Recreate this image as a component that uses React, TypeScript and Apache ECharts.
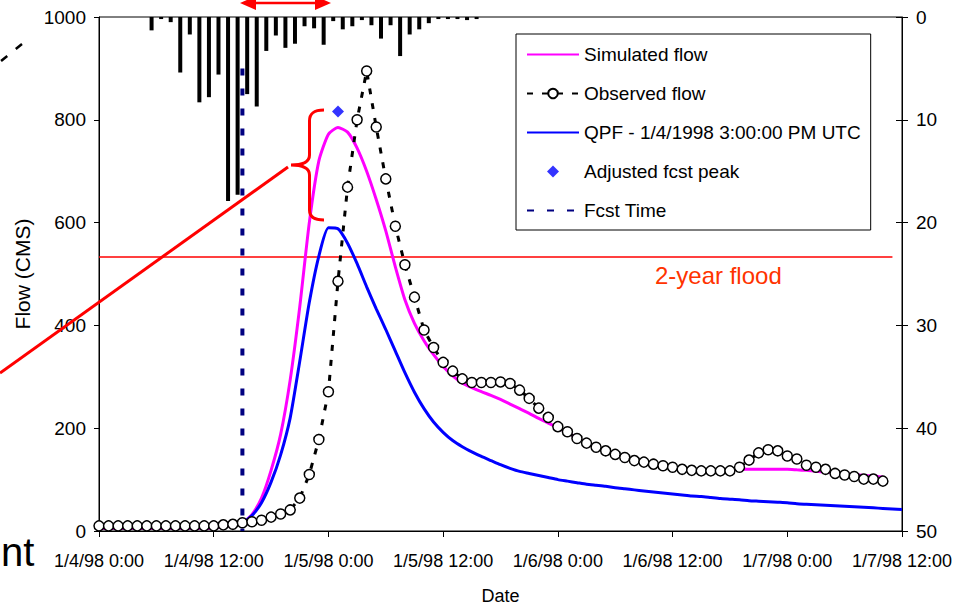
import React, { useEffect, useRef } from "react";
import * as echarts from "echarts";

const FONT = "'Liberation Sans', Arial, Helvetica, sans-serif";

// x-axis is hours since 1/4/98 0:00
const xTickLabels = [
  "1/4/98 0:00",
  "1/4/98 12:00",
  "1/5/98 0:00",
  "1/5/98 12:00",
  "1/6/98 0:00",
  "1/6/98 12:00",
  "1/7/98 0:00",
  "1/7/98 12:00",
];

// hourly observed flow (CMS), starting at hour 0
const observedStart = 0;
const observedFlow = [
  10, 10, 10, 10, 10, 10, 10, 10, 10, 10, 10, 10, 10, 12, 13, 16, 18, 21, 27, 33,
  41, 64, 110, 178, 271, 486, 669, 800, 895, 786, 685, 593, 518, 455, 391, 357, 328, 311, 296, 289,
  289, 289, 290, 287, 274, 258, 239, 221, 203, 193, 180, 171, 163, 156, 149, 143, 137, 134, 130, 127,
  124, 120, 118, 117, 117, 117, 117, 124, 138, 152, 158, 156, 146, 140, 128, 124, 120, 112, 109, 106,
  101, 101, 97,
];

// hourly simulated flow (CMS), starting at hour 0
const simulatedStart = 0;
const simulatedFlow = [
  5, 5, 5, 5, 5, 5, 5, 5, 5, 5, 5, 5, 6, 8, 11, 15, 32, 64, 118, 188,
  294, 436, 600, 720, 772, 785, 776, 745, 700, 645, 584, 514, 450, 404, 370, 343, 320, 302, 288, 279,
  271, 264, 256, 247, 238, 229, 219, 210, 201, 192, 181, 171, 163, 156, 149, 143, 137, 133, 130, 127,
  124, 121, 119, 118, 118, 118, 119, 120, 120, 120, 120, 120, 120, 119, 118, 116, 115, 113, 111, 110,
  108, 107, 105,
];

// hourly QPF forecast flow (CMS), starting at hour 15 (1/4/1998 3:00 PM)
const qpfStart = 15;
const qpfFlow = [
  15, 30, 55, 95, 148, 220, 330, 445, 535, 590, 588, 560, 520, 475, 432, 392, 350, 308, 270, 238,
  212, 192, 176, 164, 154, 145, 137, 129, 122, 116, 112, 108, 104, 100, 97, 94, 91, 89, 87, 84,
  82, 80, 78, 76, 74, 72, 70, 68, 67, 65, 63, 62, 61, 59, 58, 57, 56, 55, 53, 52,
  51, 50, 49, 48, 47, 46, 45, 44, 43, 42,
];

// hourly precipitation (right axis), hour 0..39
const precip = [
  0, 0, 0, 0, 0, 1.3, 0.2, 0.5, 5.4, 1.7, 8.3, 7.8, 5.6, 17.9, 17.3, 7.5, 8.7, 3.3, 1.8, 3.0,
  2.6, 0.9, 1.1, 2.7, 0.4, 1.2, 0.9, 0.3, 0.8, 2.1, 0.8, 3.8, 1.7, 1.2, 0.6, 0.2, 0.2, 0.2, 0.3, 0.2,
];

const adjustedPeakHour = [25];
const adjustedPeakFlow = [816];

const fcstHour = 15;
const fcstLineTop = 900;

const floodLevel = 533;
const floodEndHour = 83;

const BRACE_D =
  "M324,110 C314,110 309.5,113 309.5,121 L309.5,155 C309.5,162 303,165 291,165 C303,165 309.5,168 309.5,175 L309.5,210 C309.5,217 314,220 324,220";

let braceRegistered = false;
function registerBrace() {
  if (braceRegistered) return;
  echarts.graphic.registerShape("brace", echarts.graphic.extendPath(BRACE_D, {}) as any);
  braceRegistered = true;
}

const toPairs = (start: number, arr: number[]) => arr.map((v, i) => [start + i, v]);

export default function App() {
  const ref = useRef<HTMLDivElement>(null);

  useEffect(() => {
    if (!ref.current) return;
    registerBrace();
    const chart = echarts.init(ref.current, undefined, { renderer: "svg" });

    const axisText = { color: "#000", fontFamily: FONT, fontSize: 18 };
    const noSymbol = { opacity: 0 };

    const option: any = {
      animation: false,
      backgroundColor: "#fff",
      textStyle: { fontFamily: FONT },
      grid: {
        left: 99,
        right: 67,
        top: 17,
        bottom: 75,
        show: true,
        borderColor: "#000",
        borderWidth: 1,
        backgroundColor: "transparent",
        containLabel: false,
        outerBoundsMode: "none",
      },
      legend: {
        data: [
          { name: "Simulated flow", itemStyle: noSymbol },
          { name: "Observed flow" },
          { name: "QPF - 1/4/1998 3:00:00 PM UTC", itemStyle: noSymbol },
          { name: "Adjusted fcst peak", icon: "path://M6,0 L12,6 L6,12 L0,6 Z" },
          { name: "Fcst Time", itemStyle: noSymbol },
        ],
        orient: "vertical",
        left: 516,
        top: 34,
        padding: [11, 10, 10, 10],
        itemGap: 20,
        itemWidth: 52,
        itemHeight: 12,
        symbolKeepAspect: true,
        borderColor: "#000",
        borderWidth: 1,
        backgroundColor: "#fff",
        selectedMode: false,
        textStyle: { color: "#000", fontFamily: FONT, fontSize: 19 },
      },
      xAxis: {
        type: "value",
        min: 0,
        max: 84,
        interval: 12,
        name: "Date",
        nameLocation: "middle",
        nameGap: 56,
        nameTextStyle: { ...axisText, fontSize: 18 },
        axisLine: { show: true, lineStyle: { color: "#000", width: 1 } },
        axisTick: { show: true, length: 6, lineStyle: { color: "#000" } },
        axisLabel: {
          ...axisText,
          margin: 21,
          formatter: (v: number) => xTickLabels[Math.round(v / 12)] ?? "",
        },
        splitLine: { show: false },
      },
      yAxis: [
        {
          type: "value",
          min: 0,
          max: 1000,
          interval: 200,
          position: "left",
          name: "Flow (CMS)",
          nameLocation: "middle",
          nameGap: 60,
          nameTextStyle: { ...axisText, fontSize: 21 },
          axisLine: { show: true, lineStyle: { color: "#000", width: 1 } },
          axisTick: { show: true, length: 5, lineStyle: { color: "#000" } },
          axisLabel: {
            ...axisText,
            fontSize: 19,
            margin: 13,
            formatter: (v: number) => String(v),
          },
          splitLine: { show: false },
        },
        {
          type: "value",
          min: 0,
          max: 50,
          interval: 10,
          inverse: true,
          position: "right",
          axisLine: { show: true, lineStyle: { color: "#000", width: 1 } },
          axisTick: { show: true, length: 6, lineStyle: { color: "#000" } },
          axisLabel: { ...axisText, fontSize: 19, margin: 14 },
          splitLine: { show: false },
        },
        {
          type: "value",
          min: 0,
          max: 50,
          interval: 10,
          inverse: true,
          position: "right",
          axisLine: { show: false },
          axisTick: { show: true, inside: true, length: 6, lineStyle: { color: "#000" } },
          axisLabel: { show: false },
          splitLine: { show: false },
        },
      ],
      series: [
        {
          name: "Precip",
          type: "bar",
          yAxisIndex: 1,
          barWidth: 4,
          itemStyle: { color: "#000" },
          data: precip.map((v, i) => [i + 0.5, v]).filter((d) => d[1] > 0),
          silent: true,
          z: 1,
        },
        {
          name: "2-year flood",
          type: "line",
          data: [
            [0, floodLevel],
            [floodEndHour, floodLevel],
          ],
          symbol: "none",
          lineStyle: { color: "#FF0000", width: 1.5 },
          silent: true,
          z: 2,
        },
        {
          name: "Fcst Time",
          type: "line",
          data: [
            [fcstHour, fcstLineTop],
            [fcstHour, 0],
          ],
          symbol: "none",
          itemStyle: { color: "#000080" },
          lineStyle: { color: "#000080", width: 4, type: [7, 13] },
          silent: true,
          z: 3,
        },
        {
          name: "Simulated flow",
          type: "line",
          data: toPairs(simulatedStart, simulatedFlow),
          symbol: "none",
          smooth: 0.2,
          itemStyle: { color: "#FF00FF" },
          lineStyle: { color: "#FF00FF", width: 3 },
          silent: true,
          z: 4,
        },
        {
          name: "QPF - 1/4/1998 3:00:00 PM UTC",
          type: "line",
          data: toPairs(qpfStart, qpfFlow),
          symbol: "none",
          smooth: 0.2,
          itemStyle: { color: "#0000FF" },
          lineStyle: { color: "#0000FF", width: 3 },
          silent: true,
          z: 5,
        },
        {
          name: "Observed flow",
          type: "line",
          data: toPairs(observedStart, observedFlow),
          symbol: "circle",
          symbolSize: 10,
          showAllSymbol: true,
          itemStyle: { color: "#fff", borderColor: "#000", borderWidth: 1.5 },
          lineStyle: { color: "#000", width: 3, type: [6, 9] },
          silent: true,
          z: 6,
        },
        {
          name: "Adjusted fcst peak",
          type: "scatter",
          data: adjustedPeakHour.map((h, i) => [h, adjustedPeakFlow[i]]),
          symbol: "diamond",
          symbolSize: 12,
          itemStyle: { color: "#0000FF" },
          silent: true,
          z: 7,
        },
      ],
      graphic: [
        {
          type: "line",
          shape: { x1: 0, y1: 373, x2: 288, y2: 167 },
          style: { stroke: "#FF0000", lineWidth: 3 },
          z: 100,
        },
        {
          type: "brace",
          x: 0,
          y: 0,
          style: { stroke: "#FF0000", fill: null, lineWidth: 3 },
          z: 100,
        },
        {
          type: "line",
          shape: { x1: 250, y1: 3, x2: 321, y2: 3 },
          style: { stroke: "#FF0000", lineWidth: 2.5 },
          z: 100,
        },
        {
          type: "polygon",
          shape: { points: [[240, 3], [256, -4], [256, 10]] },
          style: { fill: "#FF0000" },
          z: 100,
        },
        {
          type: "polygon",
          shape: { points: [[331, 3], [315, -4], [315, 10]] },
          style: { fill: "#FF0000" },
          z: 100,
        },
        {
          type: "line",
          shape: { x1: 22, y1: 44, x2: -10, y2: 70 },
          style: { stroke: "#000", lineWidth: 2.5, lineDash: [8, 11] },
          z: 100,
        },
        {
          type: "text",
          x: 1,
          y: 552,
          style: {
            text: "nt",
            fontSize: 40,
            fontFamily: FONT,
            fill: "#000",
            align: "left",
            verticalAlign: "middle",
          },
          z: 100,
        },
        {
          type: "text",
          x: 655,
          y: 275,
          style: {
            text: "2-year flood",
            fontSize: 24,
            fontFamily: FONT,
            fill: "#FF3300",
            align: "left",
            verticalAlign: "middle",
          },
          z: 100,
        },
      ],
    };

    chart.setOption(option);
    return () => chart.dispose();
  }, []);

  return (
    <div
      ref={ref}
      style={{ position: "absolute", left: 0, top: 0, width: 969, height: 606 }}
    />
  );
}
